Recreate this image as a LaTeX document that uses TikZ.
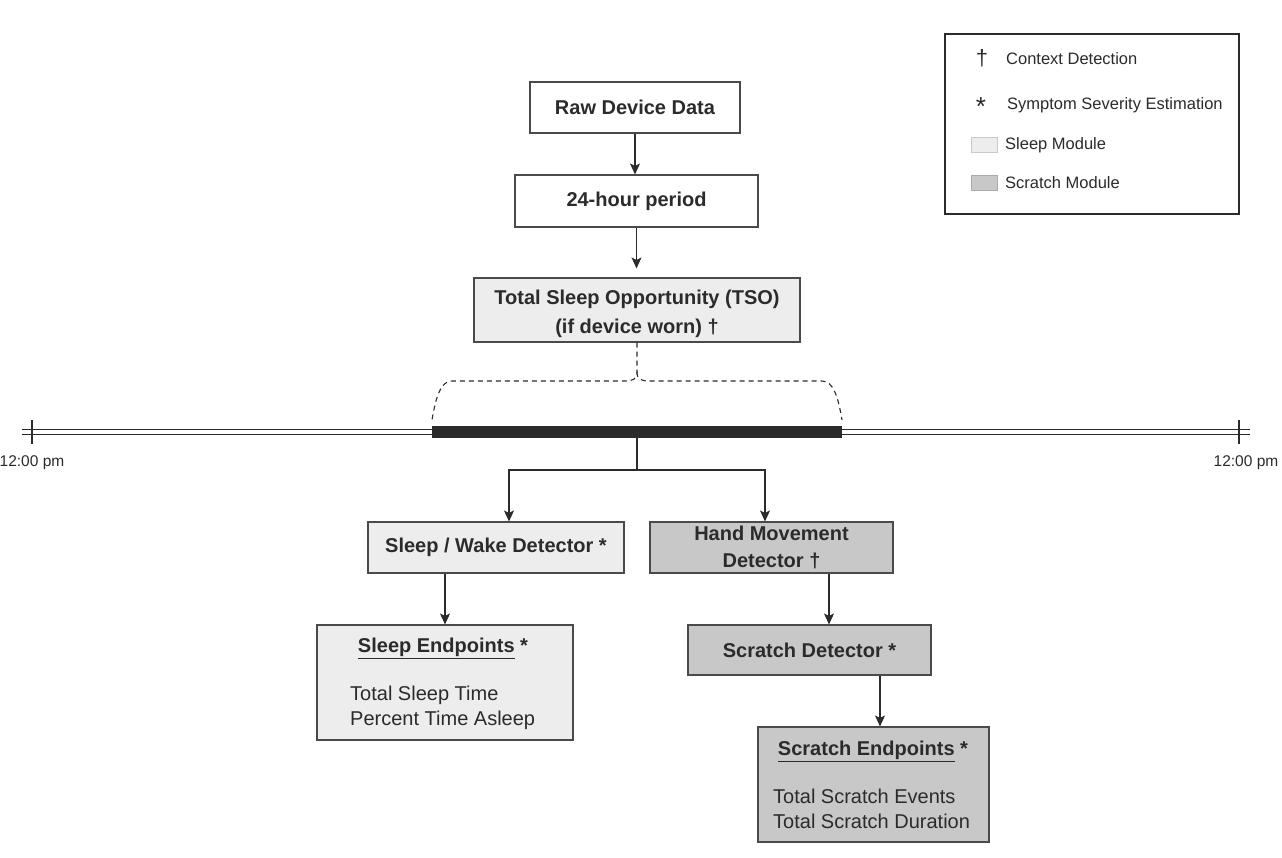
\documentclass[tikz,border=0pt]{standalone}
\usepackage{fontspec}
\setmainfont{Liberation Sans}
\usepackage{xcolor}
\usepackage{tikz}
\usetikzlibrary{arrows.meta}
\definecolor{ink}{HTML}{2B2B2B}
\definecolor{edge}{HTML}{4A4A4A}
\definecolor{sleepfill}{HTML}{EDEDED}
\definecolor{scratchfill}{HTML}{C9C8C9}
\tikzset{
  box/.style={draw=edge, line width=1.1pt, inner sep=0pt, text=ink, align=center, font=\bfseries\fontsize{20}{28}\selectfont},
  sleepbox/.style={box, fill=sleepfill},
  scratchbox/.style={box, fill=scratchfill},
  arr/.style={draw=ink, line width=1.1pt, -{Stealth[length=11pt,width=10pt,inset=2.5pt]}},
  link/.style={draw=ink, line width=1.1pt},
  brace/.style={draw=ink, line width=1.1pt, dash pattern=on 5pt off 4pt},
  lab/.style={text=ink, inner sep=0pt, font=\fontsize{20}{25}\selectfont},
  labt/.style={text=ink, inner sep=0pt, font=\bfseries\fontsize{20}{25}\selectfont},
  labs/.style={text=ink, inner sep=0pt, font=\fontsize{15.5}{18}\selectfont},
  labl/.style={text=ink, inner sep=0pt, anchor=west, font=\fontsize{16.5}{20}\selectfont},
  sym/.style={text=ink, inner sep=0pt, font=\fontsize{22}{22}\selectfont},
  swatch/.style={minimum width=26pt, minimum height=15pt, inner sep=0pt},
}

\begin{document}
\begin{tikzpicture}[x=1pt,y=-1pt]
  \useasboundingbox (0,0) rectangle (1282,858);
  % main chain
  \node[box, minimum width=210pt, minimum height=51pt] (raw) at (635,107.5) {Raw Device Data};
  \node[box, minimum width=243pt, minimum height=52pt] (period) at (636.5,201) {24-hour period};
  \node[sleepbox, minimum width=326pt, minimum height=64pt] (tso) at (637,310) {};
  \node[labt, align=center, font=\bfseries\fontsize{20}{29}\selectfont] (tsotext) at (637,314) {Total Sleep Opportunity (TSO)\\(if device worn) †};
  \draw[arr] (raw.south) -- (raw.south |- period.north);
  \draw[arr, shorten >=9pt] (period.south) -- (period.south |- tso.north);
  \draw[brace] (tso.south) -- (637,372) .. controls (637,379) and (633,381) .. (625,381) -- (452,381) .. controls (441,381) and (436,396) .. (432,420);
  \draw[brace] (637,372) .. controls (637,379) and (641,381) .. (649,381) -- (822,381) .. controls (833,381) and (838,396) .. (842,420);
  % timeline
  \draw[link, line width=1pt, double=white, double distance=3.5pt] (22,432) -- (1250,432);
  \foreach \X in {32,1239}
    \draw[link] (\X,420) -- (\X,444);
  \node[fill=ink, minimum width=410pt, minimum height=12pt, inner sep=0pt] (bar) at (637,432) {};
  \node[labs] (noonl) at (32,463) {12:00 pm};
  \node[labs] (noonr) at (1246,463) {12:00 pm};
  % modules
  \node[sleepbox, minimum width=256pt, minimum height=51pt] (sw) at (496,547.5) {Sleep / Wake Detector *};
  \node[scratchbox, minimum width=243pt, minimum height=51pt, font=\bfseries\fontsize{20}{27}\selectfont] (hand) at (771.5,547.5) {Hand Movement\\Detector †};
  \node[sleepbox, minimum width=256pt, minimum height=115pt] (sep) at (445,682.5) {};
  \node[scratchbox, minimum width=243pt, minimum height=50pt] (scr) at (809.5,650) {Scratch Detector *};
  \node[scratchbox, minimum width=231pt, minimum height=115pt] (scep) at (873.5,784.5) {};
  \node[labt] (septitle) at (443,648) {\underline{Sleep Endpoints} *};
  \node[lab, anchor=west, align=left] (sepbody) at (350,707.5) {Total Sleep Time\\Percent Time Asleep};
  \node[labt] (sceptitle) at (873,751) {\underline{Scratch Endpoints} *};
  \node[lab, anchor=west, align=left] (scepbody) at (773,808.5) {Total Scratch Events\\Total Scratch Duration};
  \coordinate (split) at (637,470);
  \draw[link] (bar.south) -- (split);
  \draw[arr] (split) -| ([xshift=13pt]sw.north);
  \draw[arr] (split) -| ([xshift=-6.5pt]hand.north);
  \draw[arr] (sw.south -| sep.north) -- (sep.north);
  \draw[arr] ([xshift=57.5pt]hand.south) -- ([xshift=57.5pt]hand.south |- scr.north);
  \draw[arr] ([xshift=70.5pt]scr.south) -- ([xshift=70.5pt]scr.south |- scep.north);
  % legend
  \node[draw=ink, line width=1.1pt, fill=white, minimum width=294pt, minimum height=180pt, inner sep=0pt] (leg) at (1092,124) {};
  \node[sym] (dag) at (982,58) {†};
  \node[labl] (ctx) at (1006,59) {Context Detection};
  \node[sym, font=\fontsize{26}{26}\selectfont] (ast) at (981,107) {*};
  \node[labl] (sev) at (1007,105) {Symptom Severity Estimation};
  \node[swatch, fill=sleepfill, draw=sleepfill!85!black, line width=0.4pt] (swsl) at (984,145) {};
  \node[labl] (sl) at (1005,145) {Sleep Module};
  \node[swatch, fill=scratchfill, draw=scratchfill!85!black, line width=0.4pt] (swsc) at (984,183) {};
  \node[labl] (sc) at (1005,183) {Scratch Module};
\end{tikzpicture}
\end{document}
